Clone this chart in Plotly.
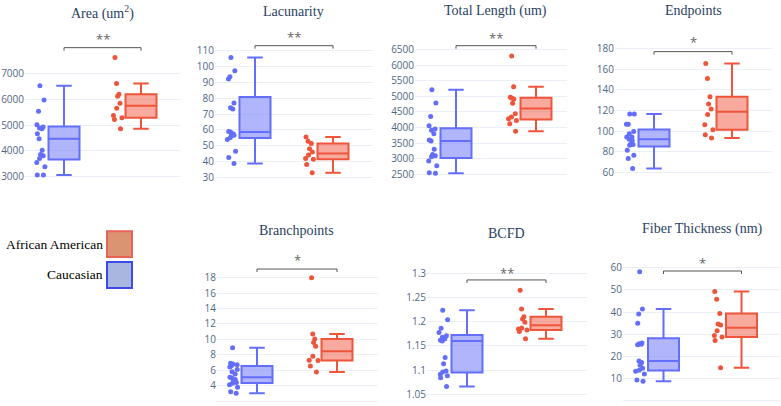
import plotly.graph_objects as go

W, H = 781, 406

titles = ["Area (um<sup>2</sup>)", "Lacunarity", "Total Length (um)", "Endpoints",
          "Branchpoints", "BCFD", "Fiber Thickness (nm)"]
stars = ["**", "**", "**", "*", "*", "**", "*"]
groups = ["Caucasian", "African American"]

area_cau = [6526, 5974, 5538, 5013, 4923, 4885, 4859, 4667, 4474, 4026, 3859, 3808, 3705, 3551, 3385, 3064, 3064]
area_aa = [7615, 6615, 6192, 6115, 5846, 5654, 5372, 5282, 5218, 4859]

lac_cau = [105.8, 97.4, 93.7, 92.2, 77.0, 74.0, 73.3, 59.1, 58.7, 57.6, 57.0, 56.6, 55.2, 53.9, 46.6, 42.6, 38.8]
lac_aa = [55.6, 52.8, 51.4, 48.2, 46.0, 44.2, 42.0, 41.5, 38.2, 32.9]

len_cau = [5220, 4793, 4356, 4057, 3951, 3908, 3801, 3600, 3567, 3300, 3129, 3087, 3055, 2916, 2767, 2543, 2521]
len_aa = [6308, 5316, 4975, 4950, 4921, 4783, 4441, 4335, 4281, 4228, 4121, 3876]

end_cau = [116.6, 116.6, 106.7, 106.7, 99.7, 97.4, 94.2, 94.2, 92.0, 91.0, 87.2, 86.9, 86.2, 81.4, 76.6, 73.4, 63.8]
end_aa = [165.3, 150.9, 133.3, 126.2, 121.4, 116.0, 106.1, 101.3, 96.5, 93.3]

br_cau = [8.9, 6.9, 6.8, 6.7, 6.6, 6.4, 6.1, 5.8, 5.5, 5.1, 5.0, 4.8, 4.6, 4.4, 4.3, 4.1, 3.8, 3.2, 3.0]
br_aa = [18.0, 10.7, 10.06, 9.6, 9.1, 7.8, 7.3, 7.27, 6.55, 5.77]

bcfd_cau = [1.224, 1.2045, 1.1867, 1.178, 1.171, 1.168, 1.165, 1.162, 1.160, 1.126, 1.113, 1.098, 1.096,
            1.091, 1.088, 1.084, 1.066]
bcfd_aa = [1.2657, 1.2265, 1.2107, 1.206, 1.199, 1.1873, 1.1853, 1.1832, 1.180, 1.1647]

fib_cau = [58.2, 41.4, 39.1, 34.9, 26.0, 25.7, 25.5, 25.3, 17.9, 17.2, 16.0, 14.6, 13.7, 13.3, 12.1, 9.3, 8.8]
fib_aa = [49.3, 45.8, 39.4, 34.6, 34.2, 31.6, 29.4, 28.7, 27.2, 14.9]

series = [(area_cau, area_aa), (lac_cau, lac_aa), (len_cau, len_aa), (end_cau, end_aa),
          (br_cau, br_aa), (bcfd_cau, bcfd_aa), (fib_cau, fib_aa)]

# pixel layout of each panel:
# left, right, box centre (cau), box centre (aa), top, bottom, two tick refs, dtick,
# title pos, star pos, bracket y
panels = [
    (25, 180, 64, 141, 50, 185, (7000, 71), (3000, 175), 1000, (102, 10), (106, 36), 45),
    (215, 373, 255, 333, 40, 185, (110, 48.3), (30, 175.7), 10, (293, 9), (295, 34), 43),
    (415, 567, 456, 536, 40, 182, (6500, 47.3), (2500, 172.3), 500, (495, 8), (495, 35), 43),
    (615, 772, 654, 732, 40, 180, (180, 45.7), (60, 170.7), 20, (693, 8), (694, 39), 49),
    (217, 378, 257, 337, 270, 406, (18, 276.7), (2, 401), 2, (296, 229), (295, 259), 268),
    (427, 587, 467, 546, 268, 406, (1.3, 272.7), (1.05, 394), 0.05, (506, 232), (505, 272), 279),
    (623, 780, 663.5, 741.5, 262, 406, (60, 266.7), (0, 400.7), 10, (702, 228), (700, 262), 270),
]

colors = ["#636EFA", "#EF553B"]

fig = go.Figure()
shapes = []
annotations = []

def px(x):
    return x / W

def py(y):
    return 1 - y / H

for i, (vals, p) in enumerate(zip(series, panels)):
    L, R, cb, cr, top, bot, t1, t2, dt, tpos, spos, by = p
    n = "" if i == 0 else str(i + 1)
    u = cr - cb
    s = (t2[1] - t1[1]) / (t1[0] - t2[0])
    yr = [t2[0] - (bot - t2[1]) / s, t1[0] + (t1[1] - top) / s]
    xr = [(L - cb) / u, (R - cb) / u]

    for k in range(2):
        fig.add_trace(go.Box(
            y=vals[k], x0=k, name=groups[k], width=31 / u,
            boxpoints="all", jitter=0.35, pointpos=-1.5,
            marker=dict(color=colors[k], size=5),
            line=dict(color=colors[k], width=2),
            xaxis="x" + n, yaxis="y" + n, showlegend=False,
        ))

    fig.layout["xaxis" + n] = dict(domain=[px(L), px(R)], range=xr, anchor="y" + n,
                                   showgrid=False, zeroline=False, showticklabels=False,
                                   showline=False)
    fig.layout["yaxis" + n] = dict(domain=[py(bot), py(top)], range=yr, anchor="x" + n,
                                   dtick=dt, showgrid=True, gridcolor="#EBF0F8",
                                   zeroline=True, zerolinecolor="#EBF0F8", zerolinewidth=1,
                                   showline=False, ticks="",
                                   tickfont=dict(family="Open Sans", size=10, color="#506784"))

    annotations.append(dict(text=titles[i], x=px(tpos[0]), y=py(tpos[1]), xref="paper", yref="paper",
                            showarrow=False, xanchor="center", yanchor="middle",
                            font=dict(family="Liberation Serif", size=14, color="#2a3f5f")))
    annotations.append(dict(text=stars[i], x=0.5, y=py(spos[1]), xref="x" + n, yref="paper",
                            showarrow=False, xanchor="center", yanchor="middle",
                            font=dict(family="Open Sans", size=13, color="#666666")))
    shapes.append(dict(type="path", xref="x" + n, yref="paper",
                       path="M 0,{a} L 0,{b} L 1,{b} L 1,{a}".format(a=py(by + 3), b=py(by)),
                       line=dict(color="#555555", width=1)))

# legend drawn by hand
legend = [("African American", "#DA9472", "#E8625A", 230), ("Caucasian", "#A9B6DF", "#3D4BE6", 261)]
for name, fill, edge, ty in legend:
    shapes.append(dict(type="rect", xref="paper", yref="paper", x0=px(107), x1=px(132),
                       y0=py(ty + 26), y1=py(ty), fillcolor=fill, line=dict(color=edge, width=2)))
    annotations.append(dict(text=name, x=px(105), y=py(ty + 13), xref="paper", yref="paper",
                            showarrow=False, xanchor="right", yanchor="middle",
                            font=dict(family="Liberation Serif", size=13.5, color="black")))

fig.update_layout(width=W, height=H, autosize=False, margin=dict(l=0, r=0, t=0, b=0),
                  paper_bgcolor="white", plot_bgcolor="white", showlegend=False,
                  shapes=shapes, annotations=annotations)

# drop the page's default 8px body margin so the figure fills the window
fig.write_html("out.html", config={"displayModeBar": False},
               post_script="document.body.style.margin='0';")
